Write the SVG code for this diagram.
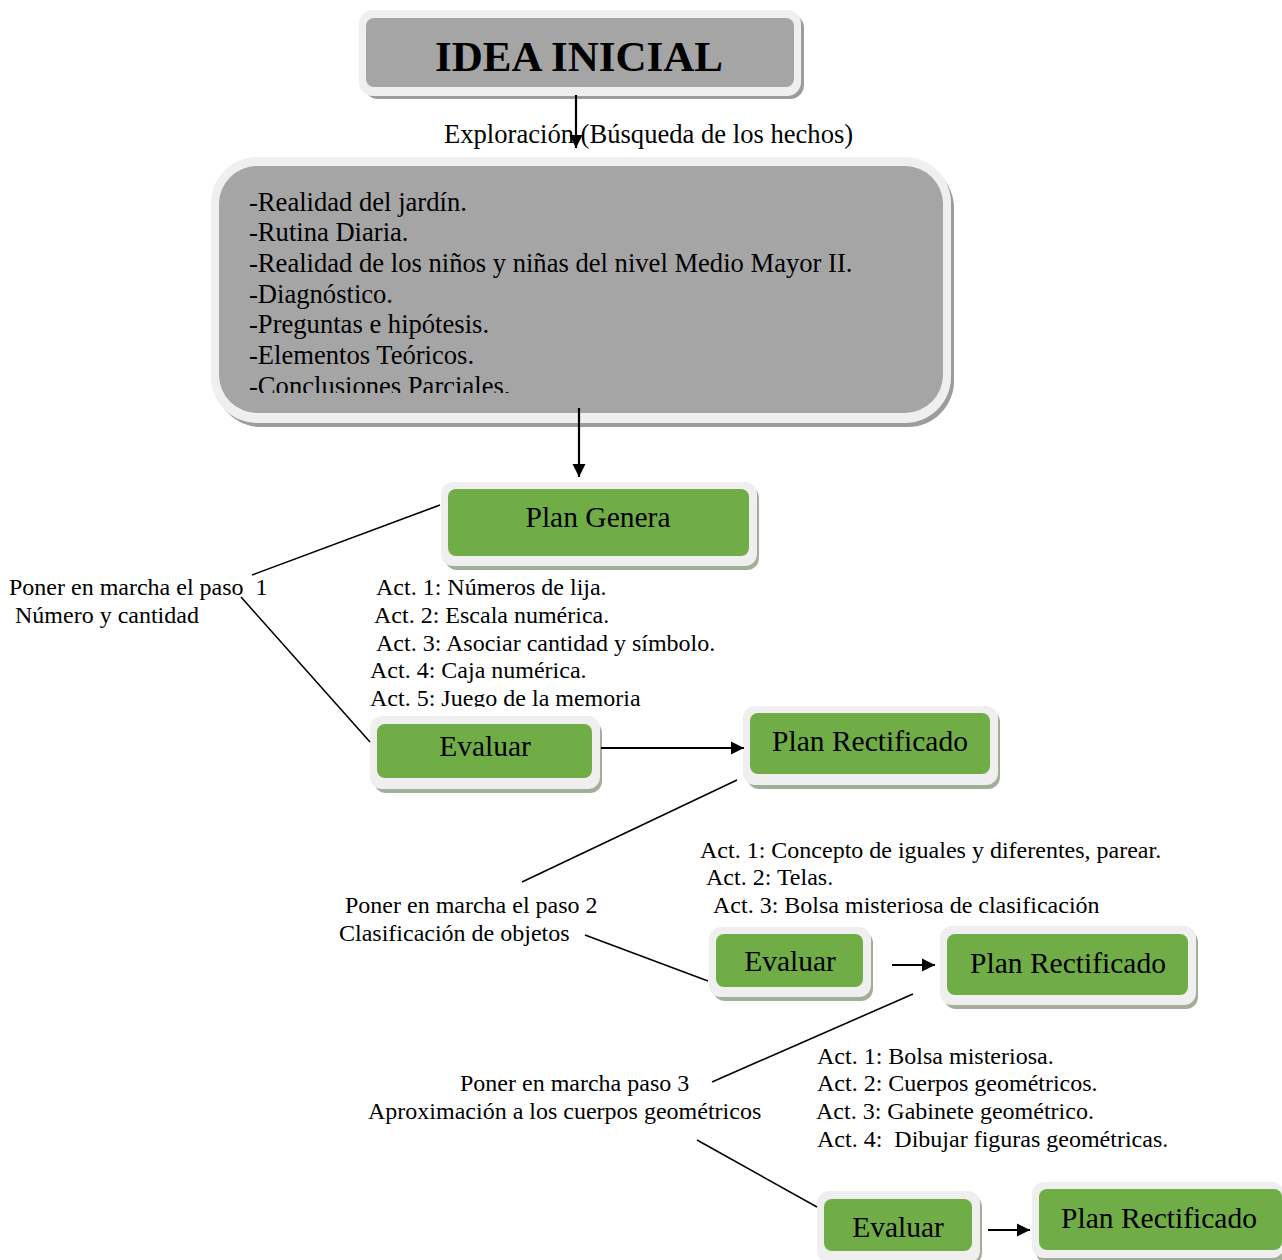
<svg xmlns="http://www.w3.org/2000/svg" width="1282" height="1260" viewBox="0 0 1282 1260">
  <style>
    text { font-family: "Liberation Serif", "Times New Roman", serif; fill: #000; }
    .title { font-size: 43px; font-weight: bold; text-anchor: middle; }
    .list { font-size: 26.6px; }
    .lbl { font-size: 29.5px; text-anchor: middle; }
    .note { font-size: 24px; }
    .frame { fill: #efefef; }
    .sh-gray { fill: #9c9c9c; }
    .sh-green { fill: #a3ae99; }
    .fill-gray { fill: #a5a5a5; }
    .fill-green { fill: #70ad47; }
    .link { stroke: #000; stroke-width: 1.6; fill: none; }
    .arrow { stroke: #000; stroke-width: 2.2; fill: none; marker-end: url(#head); }
  </style>
  <defs>
    <marker id="head" viewBox="0 0 10 10" refX="10" refY="5" markerWidth="6" markerHeight="6" markerUnits="strokeWidth" orient="auto">
      <path d="M0,0 L10,5 L0,10 z" fill="#000"/>
    </marker>
    <clipPath id="listClip"><rect x="219" y="166" width="724" height="227"/></clipPath>
    <clipPath id="actClip"><rect x="300" y="570" width="500" height="137"/></clipPath>
  </defs>
  <rect width="1282" height="1260" fill="#fff"/>

  <!-- starting idea -->
  <g id="idea-inicial">
    <rect class="sh-gray" x="364" y="14" width="440" height="85" rx="14"/>
    <rect class="frame" x="359" y="10" width="442" height="86" rx="14"/>
    <rect class="fill-gray" x="366" y="18" width="428" height="69" rx="8"/>
    <text class="title" x="579" y="71">IDEA INICIAL</text>
  </g>

  <!-- exploration step -->
  <g id="exploracion">
    <text class="list" x="444" y="143">Exploración (Búsqueda de los hechos)</text>
  </g>

  <g id="hechos">
    <rect class="sh-gray" x="215" y="162" width="739" height="265" rx="46"/>
    <rect class="frame" x="211" y="157" width="740" height="266" rx="46"/>
    <rect class="fill-gray" x="219" y="166" width="724" height="247" rx="38"/>
    <g clip-path="url(#listClip)">
      <text class="list" x="249" y="211">-Realidad del jardín.</text>
      <text class="list" x="249" y="241">-Rutina Diaria.</text>
      <text class="list" x="249" y="272">-Realidad de los niños y niñas del nivel Medio Mayor II.</text>
      <text class="list" x="249" y="303">-Diagnóstico.</text>
      <text class="list" x="249" y="333">-Preguntas e hipótesis.</text>
      <text class="list" x="249" y="364">-Elementos Teóricos.</text>
      <text class="list" x="249" y="395">-Conclusiones Parciales.</text>
    </g>
  </g>

  <!-- general plan -->
  <g id="plan-genera">
    <rect class="sh-green" x="445" y="486" width="314" height="84" rx="12"/>
    <rect class="frame" x="441" y="482" width="316" height="84" rx="12"/>
    <rect class="fill-green" x="448" y="489" width="301" height="67" rx="8"/>
    <text class="lbl" x="598" y="527">Plan Genera</text>
  </g>

  <g id="paso-1">
    <text class="note" x="9" y="595" xml:space="preserve">Poner en marcha el paso  1</text>
    <text class="note" x="15" y="623">Número y cantidad</text>
  </g>

  <g id="actividades-1" clip-path="url(#actClip)">
    <text class="note" x="376" y="595">Act. 1: Números de lija.</text>
    <text class="note" x="374" y="623">Act. 2: Escala numérica.</text>
    <text class="note" x="376" y="651">Act. 3: Asociar cantidad y símbolo.</text>
    <text class="note" x="370" y="678">Act. 4: Caja numérica.</text>
    <text class="note" x="370" y="706">Act. 5: Juego de la memoria</text>
  </g>

  <g id="evaluar-1">
    <rect class="sh-green" x="374" y="721" width="228" height="72" rx="12"/>
    <rect class="frame" x="370" y="716" width="230" height="73" rx="12"/>
    <rect class="fill-green" x="377" y="724" width="215" height="54" rx="8"/>
    <text class="lbl" x="485" y="756">Evaluar</text>
  </g>

  <g id="plan-rectificado-1">
    <rect class="sh-green" x="747" y="710" width="253" height="79" rx="12"/>
    <rect class="frame" x="743" y="706" width="255" height="79" rx="12"/>
    <rect class="fill-green" x="750" y="713" width="240" height="61" rx="8"/>
    <text class="lbl" x="870" y="751">Plan Rectificado</text>
  </g>

  <g id="actividades-2">
    <text class="note" x="700" y="858">Act. 1: Concepto de iguales y diferentes, parear.</text>
    <text class="note" x="706" y="885">Act. 2: Telas.</text>
    <text class="note" x="713" y="913">Act. 3: Bolsa misteriosa de clasificación</text>
  </g>

  <g id="paso-2">
    <text class="note" x="345" y="913">Poner en marcha el paso 2</text>
    <text class="note" x="339" y="941">Clasificación de objetos</text>
  </g>

  <g id="evaluar-2">
    <rect class="sh-green" x="713" y="931" width="160" height="70" rx="12"/>
    <rect class="frame" x="709" y="927" width="162" height="70" rx="12"/>
    <rect class="fill-green" x="716" y="934" width="147" height="53" rx="8"/>
    <text class="lbl" x="790" y="971">Evaluar</text>
  </g>

  <g id="plan-rectificado-2">
    <rect class="sh-green" x="944" y="930" width="254" height="79" rx="12"/>
    <rect class="frame" x="940" y="926" width="256" height="79" rx="12"/>
    <rect class="fill-green" x="947" y="934" width="241" height="61" rx="8"/>
    <text class="lbl" x="1068" y="973">Plan Rectificado</text>
  </g>

  <g id="actividades-3">
    <text class="note" x="817" y="1064">Act. 1: Bolsa misteriosa.</text>
    <text class="note" x="817" y="1091">Act. 2: Cuerpos geométricos.</text>
    <text class="note" x="816" y="1119">Act. 3: Gabinete geométrico.</text>
    <text class="note" x="817" y="1147" xml:space="preserve">Act. 4:  Dibujar figuras geométricas.</text>
  </g>

  <g id="paso-3">
    <text class="note" x="460" y="1091">Poner en marcha paso 3</text>
    <text class="note" x="368" y="1119">Aproximación a los cuerpos geométricos</text>
  </g>

  <g id="evaluar-3">
    <rect class="sh-green" x="821" y="1195" width="161" height="70" rx="12"/>
    <rect class="frame" x="817" y="1191" width="163" height="72" rx="12"/>
    <rect class="fill-green" x="824" y="1199" width="148" height="52" rx="8"/>
    <text class="lbl" x="898" y="1237">Evaluar</text>
  </g>

  <g id="plan-rectificado-3">
    <rect class="sh-green" x="1036" y="1186" width="250" height="78" rx="12"/>
    <rect class="frame" x="1032" y="1182" width="252" height="76" rx="12"/>
    <rect class="fill-green" x="1039" y="1189" width="243" height="61" rx="8"/>
    <text class="lbl" x="1159" y="1228">Plan Rectificado</text>
  </g>

  <!-- connectors -->
  <g id="connectors">
    <line class="arrow" x1="576" y1="95" x2="576" y2="148"/>
    <line class="arrow" x1="579" y1="408" x2="579" y2="477"/>
    <line class="link" x1="440" y1="505" x2="252" y2="575"/>
    <line class="link" x1="241" y1="597" x2="370" y2="742"/>
    <line class="arrow" x1="601" y1="748" x2="744" y2="748"/>
    <line class="link" x1="737" y1="780" x2="522" y2="882"/>
    <line class="link" x1="585" y1="935" x2="708" y2="981"/>
    <line class="arrow" x1="892" y1="965" x2="935" y2="965"/>
    <line class="link" x1="913" y1="994" x2="712" y2="1082"/>
    <line class="link" x1="697" y1="1140" x2="817" y2="1207"/>
    <line class="arrow" x1="988" y1="1230" x2="1030" y2="1230"/>
  </g>
</svg>
